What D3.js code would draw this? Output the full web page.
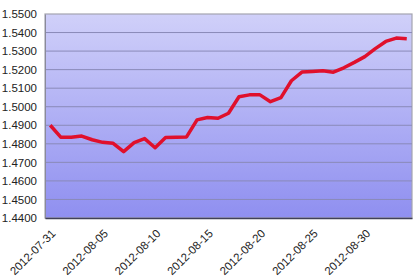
<!DOCTYPE html>
<html>
<head>
<meta charset="utf-8">
<script src="https://cdn.jsdelivr.net/npm/d3@7"></script>
<style>
  body { margin: 0; background: #fff; }
  svg text { font-family: "Liberation Sans", Arial, sans-serif; }
</style>
</head>
<body>
<svg id="chart" width="420" height="276"></svg>
<script>
"use strict";

// daily dates, one category per day
const dates = [
  "2012-07-31", "2012-08-01", "2012-08-02", "2012-08-03", "2012-08-04",
  "2012-08-05", "2012-08-06", "2012-08-07", "2012-08-08", "2012-08-09",
  "2012-08-10", "2012-08-11", "2012-08-12", "2012-08-13", "2012-08-14",
  "2012-08-15", "2012-08-16", "2012-08-17", "2012-08-18", "2012-08-19",
  "2012-08-20", "2012-08-21", "2012-08-22", "2012-08-23", "2012-08-24",
  "2012-08-25", "2012-08-26", "2012-08-27", "2012-08-28", "2012-08-29",
  "2012-08-30", "2012-08-31", "2012-09-01", "2012-09-02", "2012-09-03"
];

const values = [
  1.4900, 1.4836, 1.4836, 1.4842, 1.4822,
  1.4808, 1.4803, 1.4758, 1.4806, 1.4828,
  1.4779, 1.4834, 1.4835, 1.4837, 1.4929,
  1.4942, 1.4938, 1.4965, 1.5054, 1.5064,
  1.5064, 1.5027, 1.5049, 1.5140, 1.5187,
  1.5190, 1.5194, 1.5186, 1.5210, 1.5239,
  1.5270, 1.5313, 1.5352, 1.5370, 1.5366
];

const yTicks = [1.44, 1.45, 1.46, 1.47, 1.48, 1.49, 1.50, 1.51, 1.52, 1.53, 1.54, 1.55];

const svg = d3.select("#chart");
const margin = {left: 45, top: 14, right: 8, bottom: 58};
const width = 420 - margin.left - margin.right;
const height = 276 - margin.top - margin.bottom;

/* gradient for the plot background */
const defs = svg.append("defs");
const grad = defs.append("linearGradient")
    .attr("id", "bg")
    .attr("x1", 0).attr("y1", 0).attr("x2", 0).attr("y2", 1);
grad.append("stop").attr("offset", "0%").attr("stop-color", "#d0d0f9");
grad.append("stop").attr("offset", "100%").attr("stop-color", "#8f8ff0");

const g = svg.append("g").attr("transform", `translate(${margin.left},${margin.top})`);

const x = d3.scaleBand().domain(dates).range([0, width]);
const y = d3.scaleLinear().domain([1.44, 1.55]).range([height, 0]);

g.append("rect")
    .attr("width", width).attr("height", height)
    .attr("fill", "url(#bg)")
    .attr("stroke", "#a4a4b0").attr("stroke-width", 1.2);

/* horizontal gridlines */
g.append("g")
    .selectAll("line")
    .data(yTicks.slice(1, -1))
    .enter().append("line")
    .attr("x1", 0).attr("x2", width)
    .attr("y1", d => y(d)).attr("y2", d => y(d))
    .attr("stroke", "#8a8ab8").attr("stroke-width", 1);

/* y axis */
const yAxis = g.append("g")
    .call(d3.axisLeft(y).tickValues(yTicks).tickFormat(d3.format(".4f")).tickSize(0).tickPadding(8));
yAxis.select(".domain").attr("stroke", "#8a8a9a");
yAxis.selectAll("text").attr("font-size", 11.5).attr("fill", "#222");

/* x axis with every fifth date */
const xAxis = g.append("g")
    .attr("transform", `translate(0,${height})`)
    .call(d3.axisBottom(x).tickValues(dates.filter((d, i) => i % 5 === 0)).tickSize(0));
xAxis.select(".domain").attr("stroke", "#404058").attr("stroke-width", 1.5);
xAxis.selectAll("text")
    .attr("font-size", 11.5).attr("fill", "#222")
    .attr("text-anchor", "end")
    .attr("dy", 0)
    .attr("transform", "translate(4,14) rotate(-45)");

/* price line */
const line = d3.line()
    .x((d, i) => x(dates[i]) + x.bandwidth() / 2)
    .y(d => y(d));

g.append("path")
    .datum(values)
    .attr("d", line)
    .attr("fill", "none")
    .attr("stroke", "#e0102c")
    .attr("stroke-width", 3.5)
    .attr("stroke-linejoin", "round");
</script>
</body>
</html>
